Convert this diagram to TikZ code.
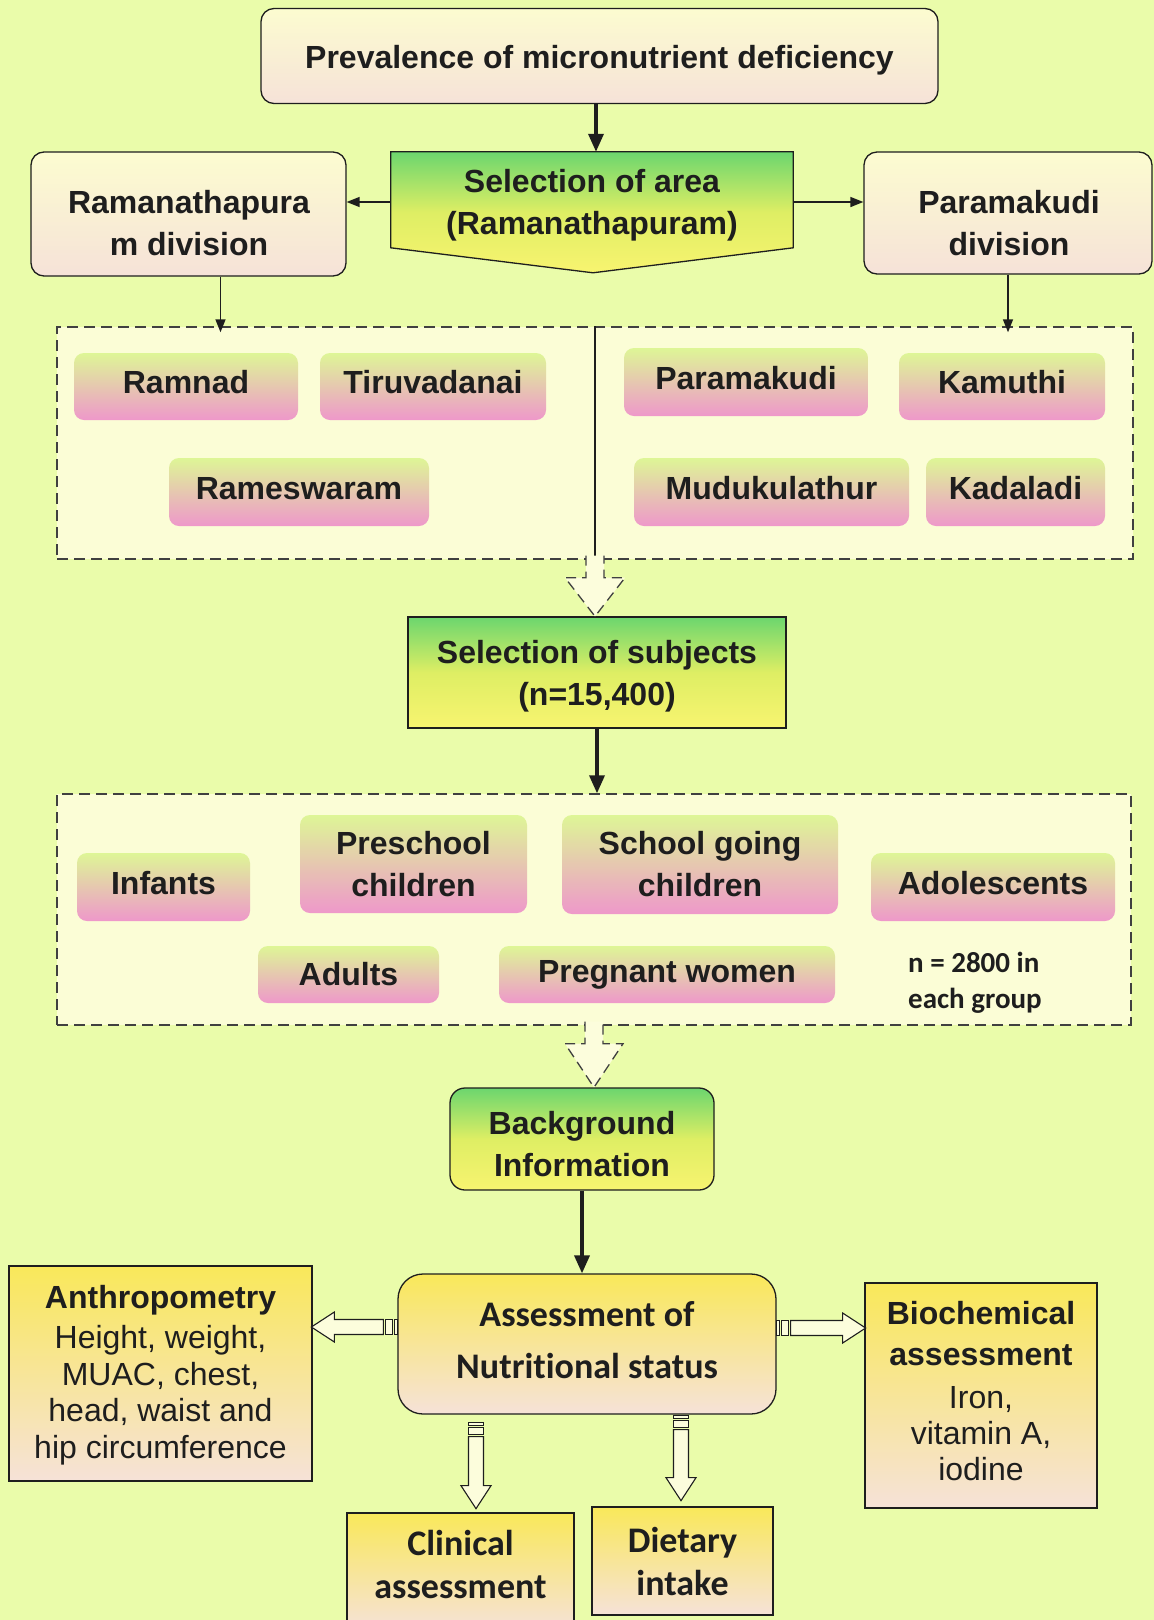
\documentclass[tikz,border=0pt]{standalone}
\usepackage{fontspec}
\setmainfont{Liberation Sans}
\newfontfamily\calfont{Carlito}[Ligatures=NoCommon]
\usetikzlibrary{arrows.meta,calc}

\definecolor{bgc}{RGB}{234,252,170}
\definecolor{ink}{RGB}{30,30,30}
\definecolor{creamT}{RGB}{252,252,208}
\definecolor{blushB}{RGB}{246,226,216}
\definecolor{leafG}{RGB}{108,214,110}
\definecolor{leafM}{RGB}{222,238,100}
\definecolor{sunY}{RGB}{248,244,112}
\definecolor{limeT}{RGB}{222,246,150}
\definecolor{roseB}{RGB}{238,152,202}
\definecolor{goldT}{RGB}{249,232,90}
\definecolor{panel}{RGB}{251,253,214}
\definecolor{hollow}{RGB}{252,253,220}

\tikzset{
  lbl/.style={font=\fontsize{32}{42}\selectfont\bfseries, align=center, text=ink, inner sep=0pt},
  calbl/.style={font=\fontsize{36}{43}\selectfont\calfont\bfseries, align=center, text=ink, inner sep=0pt},
  paleBox/.style={draw=ink, line width=1.3pt, rounded corners=13pt, top color=creamT, bottom color=blushB},
  greenBox/.style={draw=ink, line width=1.3pt, top color=leafG, bottom color=sunY, middle color=leafM},
  goldBox/.style={draw=ink, line width=1.3pt, top color=goldT, bottom color=blushB},
  pinkBox/.style={rounded corners=10pt, top color=limeT, bottom color=roseB, lbl},
  oneLine/.style={text height=23pt, text depth=9pt},
  panelBox/.style={draw=ink!85, fill=panel, line width=1.4pt, dash pattern=on 11pt off 6pt},
  bigArrow/.style={draw=ink, line width=3.5pt, -{Triangle[length=18pt,width=15pt]}},
  thinArrow/.style={draw=ink, line width=1.5pt, -{Triangle[length=13pt,width=10pt]}},
  hollowDash/.style={draw=ink!85, line width=1.3pt, dash pattern=on 10pt off 6pt},
  stripeLine/.style={draw=ink, line width=1.1pt, fill=hollow, line join=miter},
}

% striped block arrow: #1 tail point, #2 direction angle, #3 length
\newcommand\stripearrow[3]{%
  \begin{scope}[shift={#1}, rotate=#2]
    \path[stripeLine] (0,-7.5) rectangle (3,7.5);
    \path[stripeLine] (5,-7.5) rectangle (12,7.5);
    \path[stripeLine] (14,-7.5) -- (#3-23,-7.5) -- (#3-23,-15) -- (#3,0)
      -- (#3-23,15) -- (#3-23,7.5) -- (14,7.5) -- cycle;
  \end{scope}}

\begin{document}
\begin{tikzpicture}[x=1pt,y=-1pt]
\useasboundingbox (0,0) rectangle (1154,1620);
\fill[bgc] (0,0) rectangle (1154,1620);

% ---------- top of the flow ----------
\node[paleBox, minimum width=677pt, minimum height=95pt] (top) at (599.5,56) {};
\node[lbl] (topt) at (599.5,60.5) {Prevalence of micronutrient deficiency};

\node[minimum width=402pt, minimum height=100pt, inner sep=0pt] (area) at (592,202) {};
\path[greenBox] (area.north west) -- (area.north east) -- ($(area.north east)+(0,96)$)
  -- ($(area.north)+(1,121)$) -- ($(area.north west)+(0,96)$) -- cycle;
\node[lbl] (areat) at (592,205.5) {Selection of area\\(Ramanathapuram)};

\node[paleBox, minimum width=315pt, minimum height=124pt] (ramdiv) at (188.5,214) {};
\node[lbl] (ramdivt) at (189,223) {Ramanathapura\\m division};
\node[paleBox, minimum width=288pt, minimum height=122pt] (paradiv) at (1008,213) {};
\node[lbl] (paradivt) at (1009,223.5) {Paramakudi\\division};

\draw[bigArrow] ([xshift=-3.5pt]top.south) -- ([xshift=-3.5pt]top.south |- area.north);
\draw[thinArrow] (area.west) -- (area.west -| ramdiv.east);
\draw[thinArrow] (area.east) -- (area.east -| paradiv.west);

% ---------- blocks panel ----------
\node[panelBox, minimum width=1076pt, minimum height=232pt] (dash1) at (595,443) {};
\draw[ink, line width=1.1pt] (dash1.north) -- (dash1.south);

\draw[thinArrow, shorten >=-6pt] ([xshift=32pt]ramdiv.south) -- ([xshift=32pt]ramdiv.south |- dash1.north);
\draw[thinArrow, shorten >=-6pt] (paradiv.south) -- (paradiv.south |- dash1.north);

\node[pinkBox, oneLine, minimum width=224pt, minimum height=67pt] (ramnad) at (186,386.5) {Ramnad};
\node[pinkBox, oneLine, minimum width=226pt, minimum height=67pt] (tiru) at (433,386.5) {Tiruvadanai};
\node[pinkBox, oneLine, minimum width=260pt, minimum height=68pt] (ramesh) at (299,492) {Rameswaram};
\node[pinkBox, oneLine, minimum width=244pt, minimum height=68pt] (paramak) at (746,382) {Paramakudi};
\node[pinkBox, oneLine, minimum width=206pt, minimum height=67pt] (kamuthi) at (1002,386.5) {Kamuthi};
\node[pinkBox, oneLine, minimum width=275pt, minimum height=68pt] (mudu) at (771.5,492) {Mudukulathur};
\node[pinkBox, oneLine, minimum width=179pt, minimum height=68pt] (kadal) at (1015.5,492) {Kadaladi};

% ---------- subjects ----------
\node[greenBox, minimum width=378pt, minimum height=111pt] (subjects) at (597,672.5) {};
\node[lbl] (subjectst) at (597,676.5) {Selection of subjects\\(n=15,400)};

\fill[hollow] ($(dash1.south)+(-9,-4)$) -- ($(dash1.south)+(-9,18)$) -- ($(dash1.south)+(-30,18)$)
  -- (dash1.south |- subjects.north) -- ($(dash1.south)+(30,18)$) -- ($(dash1.south)+(9,18)$)
  -- ($(dash1.south)+(9,-4)$) -- cycle;
\draw[hollowDash] ($(dash1.south)+(-9,-4)$) -- ($(dash1.south)+(-9,18)$) -- ($(dash1.south)+(-30,18)$)
  -- (dash1.south |- subjects.north) -- ($(dash1.south)+(30,18)$) -- ($(dash1.south)+(9,18)$)
  -- ($(dash1.south)+(9,-4)$);

% ---------- groups panel ----------
\node[panelBox, minimum width=1074pt, minimum height=231pt] (dash2) at (594,909.5) {};
\draw[bigArrow] (subjects.south) -- (subjects.south |- dash2.north);

\node[pinkBox, oneLine, minimum width=173pt, minimum height=68pt] (infants) at (163.5,887) {Infants};
\node[pinkBox, minimum width=227pt, minimum height=98pt] (presch) at (413.5,864) {Preschool\\children};
\node[pinkBox, minimum width=276pt, minimum height=99pt] (school) at (700,864.5) {School going\\children};
\node[pinkBox, oneLine, minimum width=244pt, minimum height=68pt] (adol) at (993,887) {Adolescents};
\node[pinkBox, minimum width=181pt, minimum height=57pt] (adults) at (348.5,974.5) {Adults};
\node[pinkBox, minimum width=336pt, minimum height=57pt] (preg) at (667,974.5) {Pregnant women};
\node[font=\fontsize{29}{36}\selectfont\calfont\bfseries, align=left, text=ink, inner sep=0pt,
  anchor=west] (ngroup) at (908,983) {n = 2800 in\\each group};

% ---------- background information ----------
\node[greenBox, rounded corners=15pt, minimum width=264pt, minimum height=102pt] (backg) at (582,1139) {};
\node[lbl] (backgt) at (582,1144) {Background\\Information};

\fill[hollow] ($(dash2.south)+(-9,-4)$) -- ($(dash2.south)+(-9,18)$) -- ($(dash2.south)+(-29,18)$)
  -- (dash2.south |- backg.north) -- ($(dash2.south)+(29,18)$) -- ($(dash2.south)+(9,18)$)
  -- ($(dash2.south)+(9,-4)$) -- cycle;
\draw[hollowDash] ($(dash2.south)+(-9,-4)$) -- ($(dash2.south)+(-9,18)$) -- ($(dash2.south)+(-29,18)$)
  -- (dash2.south |- backg.north) -- ($(dash2.south)+(29,18)$) -- ($(dash2.south)+(9,18)$)
  -- ($(dash2.south)+(9,-4)$);

% ---------- assessment ----------
\node[goldBox, rounded corners=25pt, minimum width=378pt, minimum height=140pt] (assess) at (587,1344) {};
\node[font=\fontsize{36}{52}\selectfont\calfont\bfseries, align=center, text=ink, inner sep=0pt]
  (assesst) at (587,1340.5) {Assessment of\\Nutritional status};
\draw[bigArrow] (backg.south) -- (backg.south |- assess.north);

\node[goldBox, minimum width=303pt, minimum height=215pt] (anthro) at (160.5,1373.5) {};
\node[font=\fontsize{32}{36.5}\selectfont, align=center, text=ink, inner sep=0pt] (anthrot)
  at (160.5,1375)
  {\textbf{Anthropometry}\\[4pt]Height, weight,\\MUAC, chest,\\head, waist and\\hip circumference};

\node[goldBox, minimum width=232pt, minimum height=225pt] (biochem) at (981,1395.5) {};
\node[font=\fontsize{32}{36}\selectfont, align=center, text=ink, inner sep=0pt] (biochemt)
  at (981,1391)
  {\textbf{Biochemical}\\[5pt]\textbf{assessment}\\[7pt]Iron,\\vitamin A,\\iodine};

\node[goldBox, minimum width=227pt, minimum height=117pt] (clinical) at (460.5,1571.5) {};
\node[calbl] (clinicalt) at (460.5,1564.5) {Clinical\\assessment};

\node[goldBox, calbl, minimum width=181pt, minimum height=108pt] (dietary) at (682.5,1561)
  {Dietary\\intake};

\stripearrow{($(assess.west)+(0,-17)$)}{180}{86}
\stripearrow{($(assess.east)+(0,-16)$)}{0}{89}
\stripearrow{($(assess.south)+(-111,8)$)}{-90}{86}
\stripearrow{($(assess.south)+(94,1)$)}{-90}{85}

\end{tikzpicture}
\end{document}
